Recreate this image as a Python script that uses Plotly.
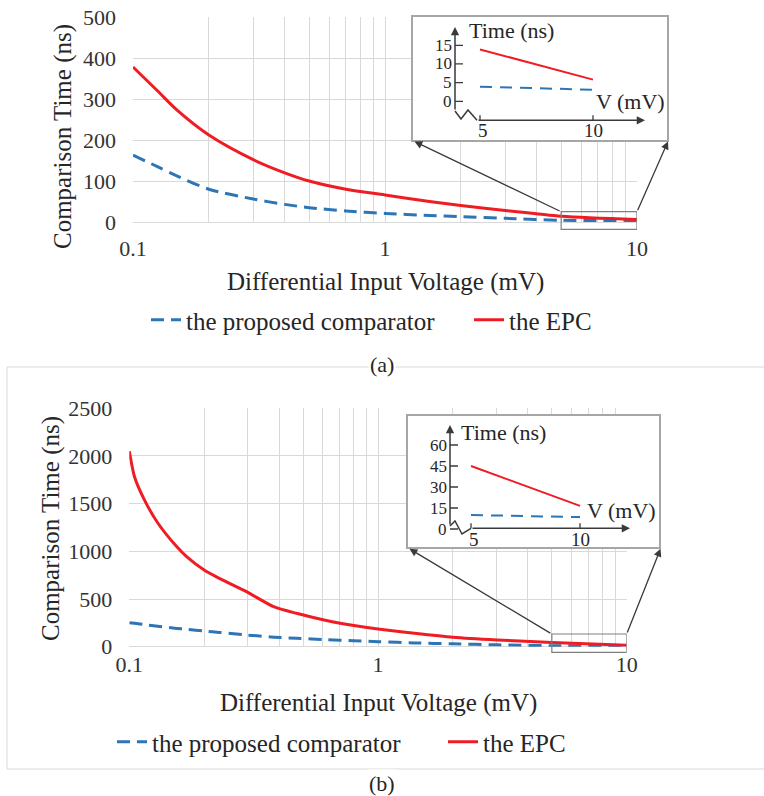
import math
import plotly.graph_objects as go

# ---------------- data ----------------
volt_a = [0.1, 0.125, 0.15, 0.2, 0.3, 0.4, 0.5, 0.7, 1, 1.5, 2, 3, 5, 10]
epc_a = [378, 320, 272, 212, 152, 120, 100, 80, 66, 50, 40, 28, 14, 6]
prop_a = [163, 135, 112, 80, 56, 43, 35, 27, 21, 16, 13, 9, 4.2, 3.1]

volt_b = [0.1, 0.105, 0.115, 0.13, 0.155, 0.17, 0.2, 0.23, 0.296, 0.38, 0.47, 0.62, 0.8, 1, 1.4, 2, 3, 5, 10]
epc_b = [2050, 1780, 1540, 1300, 1050, 945, 804, 717, 577, 420, 350, 275, 222, 185, 140, 98, 70, 45, 16]
prop_b = [252, 245, 232, 215, 192, 182, 164, 150, 123, 100, 88, 74, 62, 53, 40, 30, 20, 10, 8.4]

inset_v = [5, 10]
inset_a_epc = [13.9, 5.8]
inset_a_prop = [3.9, 3.1]
inset_b_epc = [45, 16.5]
inset_b_prop = [10, 8.5]

inset_a_yticks = [0, 5, 10, 15]
inset_b_yticks = [0, 15, 30, 45, 60]
inset_xticks = [5, 10]

main_xticks = [0.1, 1, 10]
main_xticktext = ["0.1", "1", "10"]
minor_xticks = [0.2, 0.3, 0.4, 0.5, 0.6, 0.7, 0.8, 0.9, 2, 3, 4, 5, 6, 7, 8, 9]
yticks_a = [0, 100, 200, 300, 400, 500]
yticks_b = [0, 500, 1000, 1500, 2000, 2500]
zoom_range = [5, 10]

name_prop = "the proposed comparator"
name_epc = "the EPC"

# ---------------- styling / geometry ----------------
W, H = 764, 796
FONT = "Liberation Serif"
TXT = "#262626"
TICK = "#333333"
GRID = "#d9d9d9"
BLUE = "#2e75b6"
RED = "#f01c24"
ARW = "#3a3a3a"


def px(x):
    return x / W


def py(y):
    return 1 - y / H


PA = dict(l=133, r=637, t=17, b=222)
PB = dict(l=129.3, r=626.7, t=408.3, b=646.7)

# inset boxes and pixel mapping
IA = dict(l=412.5, r=666.5, t=17, b=140, x5=480, x10=593, y0=101.3, yv=15, yp=45.3)
IB = dict(l=407.5, r=659, t=416, b=547.3, x5=471, x10=580, y0=529, yv=60, yp=445)


def inset_funcs(I):
    kx = (I["x10"] - I["x5"]) / 5.0
    ky = (I["y0"] - I["yp"]) / I["yv"]
    fx = lambda p: 5 + (p - I["x5"]) / kx
    fy = lambda p: (I["y0"] - p) / ky
    return fx, fy


fig = go.Figure()

# main traces
fig.add_trace(go.Scatter(x=volt_a, y=prop_a, name=name_prop, mode="lines",
                         line=dict(color=BLUE, width=3, dash="13px,7px", shape="spline", smoothing=0.8),
                         xaxis="x", yaxis="y", legend="legend"))
fig.add_trace(go.Scatter(x=volt_a, y=epc_a, name=name_epc, mode="lines",
                         line=dict(color=RED, width=3, shape="spline", smoothing=0.8),
                         xaxis="x", yaxis="y", legend="legend2"))
fig.add_trace(go.Scatter(x=volt_b, y=prop_b, name=name_prop, mode="lines",
                         line=dict(color=BLUE, width=3, dash="13px,7px", shape="spline", smoothing=0.8),
                         xaxis="x2", yaxis="y2", legend="legend3"))
fig.add_trace(go.Scatter(x=volt_b, y=epc_b, name=name_epc, mode="lines",
                         line=dict(color=RED, width=3, shape="spline", smoothing=0.6),
                         xaxis="x2", yaxis="y2", legend="legend4"))

# inset traces
fig.add_trace(go.Scatter(x=inset_v, y=inset_a_epc, mode="lines", showlegend=False,
                         line=dict(color=RED, width=2), xaxis="x3", yaxis="y3"))
fig.add_trace(go.Scatter(x=inset_v, y=inset_a_prop, mode="lines", showlegend=False,
                         line=dict(color=BLUE, width=2, dash="12px,8px"), xaxis="x3", yaxis="y3"))
fig.add_trace(go.Scatter(x=inset_v, y=inset_b_epc, mode="lines", showlegend=False,
                         line=dict(color=RED, width=2), xaxis="x4", yaxis="y4"))
fig.add_trace(go.Scatter(x=inset_v, y=inset_b_prop, mode="lines", showlegend=False,
                         line=dict(color=BLUE, width=2, dash="12px,8px"), xaxis="x4", yaxis="y4"))


def main_x(P, anchor, standoff):
    return dict(type="log", domain=[px(P["l"]), px(P["r"])], range=[-1, 1], anchor=anchor,
                tickvals=main_xticks, ticktext=main_xticktext, showgrid=True, gridcolor=GRID,
                gridwidth=1, zeroline=False, showline=False, ticks="", automargin=False,
                tickfont=dict(family=FONT, size=22, color=TICK), ticklabelstandoff=standoff,
                minor=dict(tickvals=minor_xticks, showgrid=True, gridcolor=GRID, gridwidth=1, ticks=""))


def main_y(P, anchor, ticks, rng):
    return dict(domain=[py(P["b"]), py(P["t"])], range=rng, anchor=anchor, tickvals=ticks,
                showgrid=True, gridcolor=GRID, gridwidth=1.2, zeroline=True, zerolinecolor=GRID,
                zerolinewidth=1.2, showline=False, ticks="", automargin=False,
                tickfont=dict(family=FONT, size=22, color=TICK), ticklabelstandoff=16)


def inset_axes(I, anchor_x, anchor_y):
    fx, fy = inset_funcs(I)
    xa = dict(domain=[px(I["l"]), px(I["r"])], range=[fx(I["l"]), fx(I["r"])], anchor=anchor_y,
              showgrid=False, zeroline=False, showticklabels=False, ticks="", automargin=False,
              showline=True, mirror=True, linecolor="#a6a6a6", linewidth=1.5)
    ya = dict(domain=[py(I["b"]), py(I["t"])], range=[fy(I["b"]), fy(I["t"])], anchor=anchor_x,
              showgrid=False, zeroline=False, showticklabels=False, ticks="", automargin=False,
              showline=True, mirror=True, linecolor="#a6a6a6", linewidth=1.5)
    return xa, ya


xa3, ya3 = inset_axes(IA, "x3", "y3")
xa4, ya4 = inset_axes(IB, "x4", "y4")

shapes = []
annotations = []

# panel (b) frame
shapes.append(dict(type="rect", xref="paper", yref="paper", x0=px(7), x1=px(766),
                   y0=py(769), y1=py(367), line=dict(color="#d9d9d9", width=1), layer="below"))


def main_px_x(P, v):
    return P["l"] + (math.log10(v) + 1) / 2 * (P["r"] - P["l"])


def zoom_box(P, xref, top_px, bot_px, I):
    shapes.append(dict(type="rect", xref=xref, yref="paper",
                       x0=zoom_range[0], x1=zoom_range[1],
                       y0=py(bot_px), y1=py(top_px), line=dict(color="#7f7f7f", width=1.2)))
    xl = main_px_x(P, zoom_range[0])
    xr = main_px_x(P, zoom_range[1])
    for (hx, tx) in [(I["l"] + 2, xl), (I["r"] + 1.5, xr)]:
        hy = I["b"] + 1.5
        annotations.append(dict(x=px(hx), y=py(hy), xref="paper", yref="paper", text="",
                                showarrow=True, axref="pixel", ayref="pixel",
                                ax=tx - hx, ay=top_px - hy, arrowhead=2, arrowsize=1.2,
                                arrowwidth=1.3, arrowcolor=ARW, standoff=0))


zoom_box(PA, "x", 211.7, 229.3, IA)
zoom_box(PB, "x2", 634, 652.3, IB)


def inset_decor(I, xr, yr, yticks, yaxis_x, top_px, bot_px, zig, xaxis_y, xend_px,
                lab_y, time_pos, v_pos):
    fx, fy = inset_funcs(I)
    annotations.append(dict(x=fx(yaxis_x), y=fy(top_px), xref=xr, yref=yr, axref=xr, ayref=yr,
                            ax=fx(yaxis_x), ay=fy(bot_px), text="", showarrow=True,
                            arrowhead=2, arrowsize=1.1, arrowwidth=1.5, arrowcolor=ARW, standoff=0))
    path = "M " + " L ".join("%f,%f" % (fx(a), fy(b)) for a, b in zig)
    shapes.append(dict(type="path", xref=xr, yref=yr, path=path, line=dict(color=ARW, width=1.5)))
    annotations.append(dict(x=fx(xend_px), y=fy(xaxis_y), xref=xr, yref=yr, axref=xr, ayref=yr,
                            ax=fx(zig[-1][0]), ay=fy(xaxis_y), text="", showarrow=True,
                            arrowhead=2, arrowsize=1.1, arrowwidth=1.5, arrowcolor=ARW, standoff=0))
    x0 = fx(yaxis_x)
    x1 = fx(yaxis_x + 8)
    for t in yticks:
        shapes.append(dict(type="line", xref=xr, yref=yr, x0=x0, x1=x1, y0=t, y1=t,
                           line=dict(color=ARW, width=1.3)))
        annotations.append(dict(x=x0, y=t, xref=xr, yref=yr, text=str(t), showarrow=False,
                                xanchor="right", yanchor="middle", xshift=-1,
                                font=dict(family=FONT, size=17, color=TXT)))
    for t in inset_xticks:
        shapes.append(dict(type="line", xref=xr, yref=yr, x0=t, x1=t, y0=fy(xaxis_y),
                           y1=fy(xaxis_y - 5), line=dict(color=ARW, width=1.3)))
        annotations.append(dict(x=t, y=fy(lab_y), xref=xr, yref=yr, text=str(t), showarrow=False,
                                xanchor="center", yanchor="middle", xshift=3 if t == 5 else 0,
                                font=dict(family=FONT, size=19, color=TXT)))
    annotations.append(dict(x=fx(time_pos[0]), y=fy(time_pos[1]), xref=xr, yref=yr,
                            text="Time (ns)", showarrow=False, xanchor="left", yanchor="middle",
                            font=dict(family=FONT, size=22, color=TXT)))
    annotations.append(dict(x=fx(v_pos[0]), y=fy(v_pos[1]), xref=xr, yref=yr,
                            text="V (mV)", showarrow=False, xanchor="left", yanchor="middle",
                            font=dict(family=FONT, size=22, color=TXT)))


inset_decor(IA, "x3", "y3", inset_a_yticks, 455, 27, 111,
            [(455, 111), (461, 119), (468, 110), (477, 120.3)], 120.3, 645, 131,
            (467, 31), (594, 102))
inset_decor(IB, "x4", "y4", inset_b_yticks, 450, 425, 526,
            [(450, 526), (455, 521), (462, 534), (471, 528.3)], 528.3, 630, 539,
            (459, 432), (585, 510))

# axis titles
for (cx, cy) in [(63, 137), (51, 529)]:
    annotations.append(dict(x=px(cx), y=py(cy), xref="paper", yref="paper",
                            text="Comparison Time (ns)", textangle=-90, showarrow=False,
                            xanchor="center", yanchor="middle",
                            font=dict(family=FONT, size=25, color=TXT)))
for (cx, cy) in [(385, 282), (378, 703)]:
    annotations.append(dict(x=px(cx), y=py(cy), xref="paper", yref="paper",
                            text="Differential Input Voltage (mV)", showarrow=False,
                            xanchor="center", yanchor="middle",
                            font=dict(family=FONT, size=25, color=TXT)))
for (cx, cy, t) in [(382, 364, "(a)"), (382, 783, "(b)")]:
    annotations.append(dict(x=px(cx), y=py(cy), xref="paper", yref="paper", text=t,
                            showarrow=False, xanchor="center", yanchor="middle", bgcolor="white",
                            font=dict(family=FONT, size=22, color=TXT)))


def leg(text_start, cy):
    return dict(orientation="h", xanchor="left", yanchor="middle", bgcolor="rgba(0,0,0,0)",
                x=px(text_start - 40), y=py(cy), borderwidth=0,
                font=dict(family=FONT, size=25, color=TXT),
                itemclick=False, itemdoubleclick=False)


fig.update_layout(
    width=W, height=H, margin=dict(l=0, r=0, t=0, b=0, autoexpand=False),
    paper_bgcolor="white", plot_bgcolor="white",
    font=dict(family=FONT, color=TXT),
    xaxis=main_x(PA, "y", 11), yaxis=main_y(PA, "x", yticks_a, [0, 500]),
    xaxis2=main_x(PB, "y2", 2), yaxis2=main_y(PB, "x2", yticks_b, [0, 2500]),
    xaxis3=xa3, yaxis3=ya3, xaxis4=xa4, yaxis4=ya4,
    legend=leg(186, 320), legend2=leg(509, 320),
    legend3=leg(152, 742), legend4=leg(483, 742),
    shapes=shapes, annotations=annotations,
)

fig.write_html("out.html", config={"displayModeBar": False},
               post_script="document.body.style.margin='0';document.body.style.overflow='hidden';")
